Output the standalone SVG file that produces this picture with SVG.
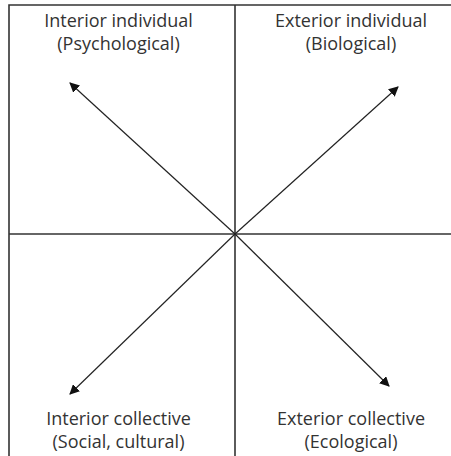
<svg xmlns="http://www.w3.org/2000/svg" width="451" height="456" viewBox="0 0 451 456">
<style>
.t{font-family:"Open Sans","Noto Sans",sans-serif;font-size:18px;fill:#333;text-anchor:middle}
.grid{stroke:#333;stroke-width:1.6;fill:none}
.arr{stroke:#222;stroke-width:1.2;fill:none;marker-end:url(#ah)}
</style>
<defs>
<marker id="ah" viewBox="0 0 10 10" refX="9" refY="5" markerWidth="10" markerHeight="10" markerUnits="userSpaceOnUse" orient="auto">
<path d="M0,0 L10,5 L0,10 z" fill="#111"/>
</marker>
</defs>
<rect width="451" height="456" fill="#fff"/>
<g id="connectors">
<path class="grid" d="M9,456 V5 H451"/>
<line class="grid" x1="235" y1="5" x2="235" y2="456"/>
<line class="grid" x1="9" y1="234" x2="451" y2="234"/>
<line class="arr" x1="235" y1="234" x2="70" y2="83"/>
<line class="arr" x1="235" y1="234" x2="398" y2="87"/>
<line class="arr" x1="235" y1="234" x2="70" y2="394"/>
<line class="arr" x1="235" y1="234" x2="389" y2="386"/>
</g>
<g id="q1"><text class="t" x="118.5" y="27">Interior individual</text><text class="t" x="118.5" y="49.5">(Psychological)</text></g>
<g id="q2"><text class="t" x="351" y="27">Exterior individual</text><text class="t" x="351" y="49.5">(Biological)</text></g>
<g id="q3"><text class="t" x="118.5" y="425">Interior collective</text><text class="t" x="118.5" y="447.5">(Social, cultural)</text></g>
<g id="q4"><text class="t" x="351" y="425">Exterior collective</text><text class="t" x="351" y="447.5">(Ecological)</text></g>
</svg>
